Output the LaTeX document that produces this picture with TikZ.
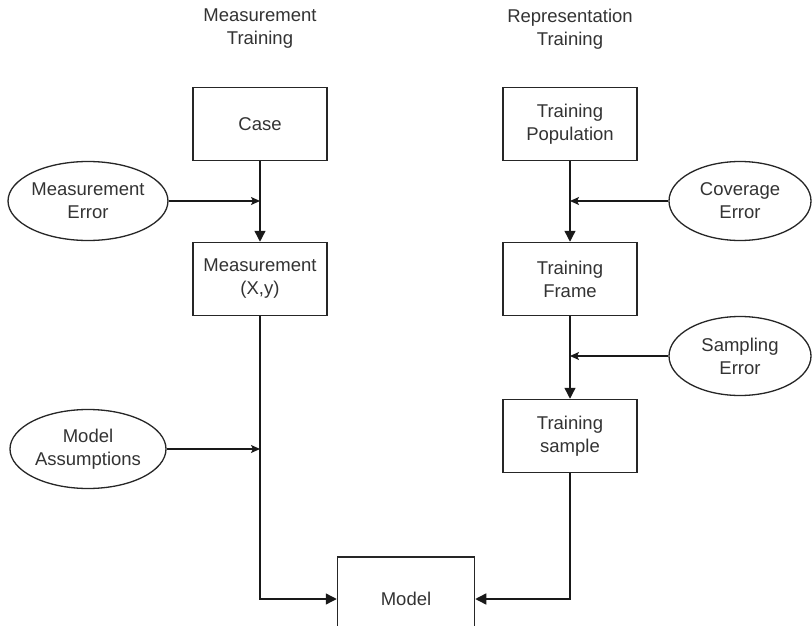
\documentclass[tikz,border=0pt]{standalone}
\usepackage{fontspec}
\setmainfont{Liberation Sans}
\usetikzlibrary{arrows.meta,shapes.geometric}
\tikzset{
  txt/.style={align=center,text=black!80,font=\fontsize{18.5}{23}\selectfont},
  box/.style={txt,draw=black!85,line width=1.5pt,minimum width=134pt,minimum height=73pt},
  errnode/.style={txt,draw=black!85,ellipse,line width=1.3pt,minimum width=156pt,minimum height=79pt,inner sep=0pt},
  flow/.style={draw=black!90,line width=1.4pt,-{Triangle[length=11pt,width=11pt]}},
  feed/.style={draw=black!90,line width=1.2pt,-{Stealth[length=9pt,width=8pt,inset=2pt]}}
}
\begin{document}
\begin{tikzpicture}[x=1pt,y=-1pt]
    \clip (0,0) rectangle (812,626);
    \fill[white] (0,0) rectangle (812,626);
    % column titles
    \node[txt] (mtitle) at (260,29) {Measurement\\Training};
    \node[txt] (rtitle) at (570,29) {Representation\\Training};
    % measurement side
    \node[box] (case) at (260,124) {Case};
    \node[box] (meas) at (260,279) {Measurement\\(X,y)};
    \node[errnode] (merr) at (88,201) {Measurement\\Error};
    \node[errnode] (massum) at (88,449) {Model\\Assumptions};
    % representation side
    \node[box] (tpop) at (570,124) {Training\\Population};
    \node[box] (tframe) at (570,279) {Training\\Frame};
    \node[box] (tsample) at (570,436) {Training\\sample};
    \node[errnode,minimum width=142pt] (coverr) at (740,201) {Coverage\\Error};
    \node[errnode,minimum width=142pt] (samperr) at (740,356) {Sampling\\Error};
    % model
    \node[box,minimum width=137pt,minimum height=84pt] (model) at (406,599) {Model};
    % junction points
    \coordinate (j1) at (meas.center |- merr.east);
    \coordinate (j2) at (meas.center |- massum.east);
    \coordinate (j3) at (tframe.center |- coverr.west);
    \coordinate (j4) at (tframe.center |- samperr.west);
    \coordinate (j5) at (meas.center |- model.west);
    \coordinate (j6) at (tsample.center |- model.east);
    % connectors
    \draw[flow] (case) -- (meas);
    \draw[flow] (meas.south) -- (j5) -- (model.west);
    \draw[flow] (tpop) -- (tframe);
    \draw[flow] (tframe) -- (tsample);
    \draw[flow] (tsample.south) -- (j6) -- (model.east);
    \draw[feed] (merr) -- (j1);
    \draw[feed] (massum) -- (j2);
    \draw[feed] (coverr) -- (j3);
    \draw[feed] (samperr) -- (j4);
\end{tikzpicture}
\end{document}
